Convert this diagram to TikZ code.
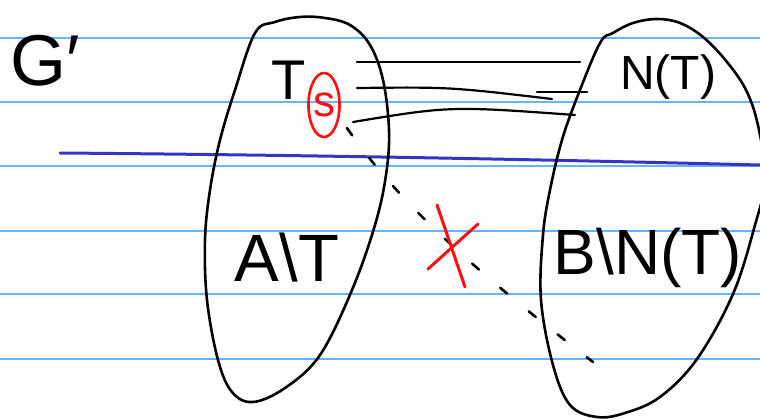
\documentclass[tikz,border=0pt]{standalone}
\usepackage{fontspec}
\setmainfont{Liberation Sans}
\usepackage{tikz}
\usetikzlibrary{shapes.geometric}
\definecolor{RuleBlue}{HTML}{66B3FF}
\definecolor{PenBlue}{HTML}{3535C4}
\definecolor{PenRed}{HTML}{FF1010}
\definecolor{PenInk}{HTML}{000000}
\tikzset{
  ruleline/.style={line width=1.6pt,RuleBlue},
  divider/.style={line width=3pt,PenBlue,line cap=round},
  setoval/.style={line width=2.6pt,PenInk,line join=round},
  edgeline/.style={line width=2.2pt,PenInk,line cap=round},
  cutedge/.style={line width=2.6pt,PenInk,line cap=round,dash pattern=on 9pt off 28pt},
  crossmark/.style={line width=3pt,PenRed,line cap=round},
  handlabel/.style={inner sep=0pt,text=PenInk},
  pickedvertex/.style={ellipse,draw=PenRed,line width=2.6pt,text=PenRed,inner sep=0pt,minimum width=30pt,minimum height=64pt}
}

\begin{document}
\begin{tikzpicture}[x=1pt,y=-1pt]
  \useasboundingbox (0,0) rectangle (760,419);
  \clip (0,0) rectangle (760,419);
  \fill[white] (0,0) rectangle (760,419);

  % ruled paper
  \foreach \ry in {38,102,166,231,294,359}
    \draw[ruleline] (0,\ry) -- (760,\ry);
  \draw[divider] (60,153) .. controls (300,155) and (520,159) .. (760,165);

  % side A
  \draw[setoval] plot[smooth cycle,tension=0.6] coordinates {
    (255,33) (275,22) (300,17) (325,18) (350,25) (370,45) (383,80) (389,130)
    (386,175) (375,225) (352,290) (320,355) (285,388) (253,402) (232,392)
    (218,360) (207,300) (205,240) (210,190) (220,140) (235,90)};
  % side B
  \draw[setoval] plot[smooth cycle,tension=0.6] coordinates {
    (600,43) (613,33) (633,23) (657,19) (680,23) (703,37) (727,62) (747,92)
    (759,130) (765,180) (755,225) (733,294) (697,359) (660,397) (625,413)
    (597,417) (570,405) (553,365) (541,300) (543,235) (550,190) (562,140)
    (578,95)};

  \node[handlabel,font=\fontsize{72}{72}\selectfont] (gname) at (45,61) {G′};
  \node[handlabel,font=\fontsize{56}{56}\selectfont] (tset) at (289,80) {T};
  \node[pickedvertex,font=\fontsize{44}{44}\selectfont] (svert) at (324,105) {s};
  \node[handlabel,font=\fontsize{48}{48}\selectfont] (ntset) at (668,77) {N(T)};
  \node[handlabel,font=\fontsize{67}{67}\selectfont] (arest) at (287,258) {A\textbackslash T};
  \node[handlabel,font=\fontsize{64}{64}\selectfont] (brest) at (648,258) {B\textbackslash N(T)};

  % edges T -- N(T)
  \coordinate (t1) at (357,62);
  \coordinate (t2) at (357,88);
  \coordinate (t3) at (353,122);
  \coordinate (n1) at (580,62);
  \coordinate (n2) at (552,99);
  \coordinate (n2a) at (537,92);
  \coordinate (n2b) at (587,92);
  \coordinate (n3) at (575,115);
  \draw[edgeline] (t1) -- (n1);
  \draw[edgeline] (t2) .. controls (450,87) .. (n2);
  \draw[edgeline] (n2a) -- (n2b);
  \draw[edgeline] (t3) .. controls (450,106) .. (n3);

  % missing edge A\T -- B\N(T)
  \coordinate (sfoot) at (347,128);
  \coordinate (bfoot) at (593,362);
  \draw[cutedge] (sfoot) .. controls (400,205) and (480,275) .. (bfoot);
  \draw[crossmark] (437,205) -- (465,287);
  \draw[crossmark] (428,269) -- (478,224);
\end{tikzpicture}
\end{document}
